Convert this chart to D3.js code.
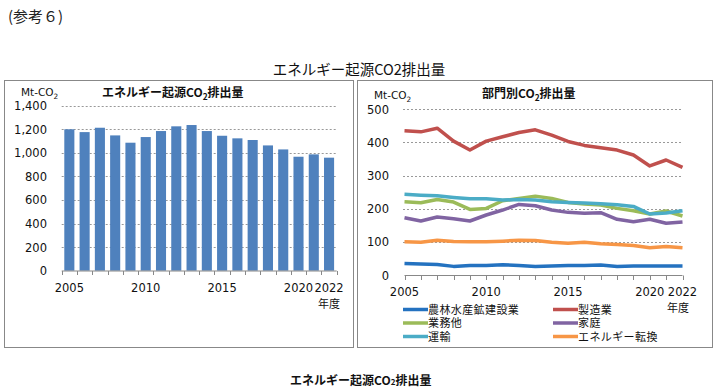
<!DOCTYPE html>
<html><head><meta charset="utf-8">
<script src="https://cdn.jsdelivr.net/npm/d3@7"></script>
<style>
html,body{margin:0;padding:0;background:#fff;}
svg{display:block;}
text{font-family:"DejaVu Sans","Noto Sans CJK JP",sans-serif;}
.jp{font-family:"Noto Sans CJK JP","DejaVu Sans",sans-serif;}
</style></head>
<body>
<script>
const years = [2005,2006,2007,2008,2009,2010,2011,2012,2013,2014,2015,2016,2017,2018,2019,2020,2021,2022];
const totalEmissions = [1200,1176,1213,1148,1086,1134,1185,1225,1236,1185,1145,1123,1109,1063,1029,967,987,959];
const leftTicks = [0,200,400,600,800,1000,1200,1400];
const rightTicks = [0,100,200,300,400,500];
const labelYears = [2005,2010,2015,2020,2022];

const sectorNames = ["農林水産鉱建設業","製造業","業務他","家庭","運輸","エネルギー転換"];
const sectorColors = ["#2472C0","#C0504D","#9BBB59","#8064A2","#4BACC6","#F79646"];
const agriculture = [35,33,32,26,29,29,31,29,26,27,29,29,30,26,27,27,27,27];
const manufacturing = [435,432,443,404,377,404,417,430,438,422,403,391,384,377,362,329,347,325];
const commercial = [221,218,228,220,198,201,224,231,238,231,219,214,211,201,194,184,193,178];
const household = [173,163,175,170,163,181,196,213,209,196,189,186,188,168,161,168,156,160];
const transport = [244,241,239,234,230,230,226,228,226,221,219,217,215,212,207,184,187,194];
const energyConv = [100,99,105,101,100,100,102,105,104,99,96,99,94,92,89,82,86,82];
const sectorSeries = [agriculture,manufacturing,commercial,household,transport,energyConv];
// draw order (back to front)
const drawOrder = [5,0,3,2,4,1];

const W=719,H=391;
const svg=d3.select("body").append("svg").attr("width",W).attr("height",H);

// headings
svg.append("text").attr("class","jp").attr("x",8).attr("y",22).attr("font-size",15).attr("fill","#222").text("(参考６)");
svg.append("text").attr("class","jp").attr("x",359).attr("y",75).attr("text-anchor","middle").attr("font-size",14.5).attr("fill","#111").text("エネルギー起源CO2排出量");

// panels
svg.append("rect").attr("x",4.5).attr("y",80.5).attr("width",349).attr("height",267).attr("fill","none").attr("stroke","#888");
svg.append("rect").attr("x",357.5).attr("y",80.5).attr("width",355).attr("height",267).attr("fill","none").attr("stroke","#888");

function co2Label(g,x,y,pre,post,size,bold){
  const t=g.append("text").attr("x",x).attr("y",y).attr("font-size",size).attr("fill","#111");
  if(bold){t.attr("font-weight","bold").attr("class","jp");}
  t.append("tspan").text(pre);
  t.append("tspan").attr("font-size",size*0.7).attr("dy",size*0.25).text("2");
  t.append("tspan").attr("dy",-size*0.25).text(post);
  return t;
}

// ---- Left bar chart ----
const xb=d3.scaleBand().domain(years).range([61.7,336.7]).paddingInner(0.34).paddingOuter(0.17);
const yb=d3.scaleLinear().domain([0,1400]).range([270.7,105.7]);
const gl=svg.append("g");
gl.selectAll("line.grid").data(leftTicks.filter(d=>d>0)).join("line")
  .attr("x1",61.7).attr("x2",336.7).attr("y1",d=>Math.round(yb(d))+0.5).attr("y2",d=>Math.round(yb(d))+0.5)
  .attr("stroke","#999").attr("stroke-dasharray","2,2");
gl.selectAll("rect.bar").data(years).join("rect")
  .attr("x",d=>xb(d)).attr("width",xb.bandwidth())
  .attr("y",(d,i)=>yb(totalEmissions[i])).attr("height",(d,i)=>yb(0)-yb(totalEmissions[i]))
  .attr("fill","#4F81BD");
// axis
gl.append("line").attr("x1",61.7).attr("x2",336.7).attr("y1",271).attr("y2",271).attr("stroke","#888");
d3.range(19).forEach(i=>{
  const x=Math.round(61.7+i*(275/18))+0.5;
  gl.append("line").attr("x1",x).attr("x2",x).attr("y1",271).attr("y2",275).attr("stroke","#888");
});
gl.selectAll("text.yt").data(leftTicks).join("text")
  .attr("x",47).attr("y",d=>yb(d)+4.5).attr("text-anchor","end").attr("font-size",11.5).attr("fill","#111")
  .text(d=>d3.format(",")(d));
gl.selectAll("text.xt").data(labelYears).join("text")
  .attr("x",d=>xb(d)+xb.bandwidth()/2).attr("y",292).attr("text-anchor","middle").attr("font-size",11.5).attr("fill","#111")
  .text(d=>d);
gl.append("text").attr("class","jp").attr("x",329).attr("y",308).attr("text-anchor","middle").attr("font-size",11).attr("fill","#111").text("年度");
co2Label(gl,21,96,"Mt-CO","",10.5,false);
co2Label(gl,102,97,"エネルギー起源CO","排出量",12,true);

// ---- Right line chart ----
const xl=d3.scalePoint().domain(years).range([404.5,682.5]);
const yl=d3.scaleLinear().domain([0,500]).range([275,109.3]);
const gr=svg.append("g");
gr.selectAll("line.grid").data(rightTicks.filter(d=>d>0)).join("line")
  .attr("x1",403).attr("x2",683).attr("y1",d=>Math.round(yl(d))+0.5).attr("y2",d=>Math.round(yl(d))+0.5)
  .attr("stroke","#999").attr("stroke-dasharray","2,2");
gr.append("line").attr("x1",404.5).attr("x2",682.5).attr("y1",275.5).attr("y2",275.5).attr("stroke","#888");
years.forEach(y=>{
  const x=Math.round(xl(y))+0.5;
  gr.append("line").attr("x1",x).attr("x2",x).attr("y1",275.5).attr("y2",280).attr("stroke","#888");
});
const line=d3.line().x((d,i)=>xl(years[i])).y(d=>yl(d));
drawOrder.forEach(k=>{
  gr.append("path").attr("d",line(sectorSeries[k])).attr("fill","none")
    .attr("stroke",sectorColors[k]).attr("stroke-width",3.5).attr("stroke-linejoin","round");
});
gr.selectAll("text.yt").data(rightTicks).join("text")
  .attr("x",389).attr("y",d=>yl(d)+4.5).attr("text-anchor","end").attr("font-size",11.5).attr("fill","#111")
  .text(d=>d);
gr.selectAll("text.xt").data(labelYears).join("text")
  .attr("x",d=>xl(d)).attr("y",296).attr("text-anchor","middle").attr("font-size",11.5).attr("fill","#111")
  .text(d=>d);
gr.append("text").attr("class","jp").attr("x",678).attr("y",312).attr("text-anchor","middle").attr("font-size",11).attr("fill","#111").text("年度");
co2Label(gr,374,99,"Mt-CO","",10.5,false);
co2Label(gr,482,98,"部門別CO","排出量",12,true);

// legend
const legPos=[[403,309.5],[553,309.5],[403,323],[553,323],[403,336.5],[553,336.5]];
sectorNames.forEach((n,k)=>{
  const [lx,ly]=legPos[k];
  gr.append("line").attr("x1",lx).attr("x2",lx+25).attr("y1",ly).attr("y2",ly).attr("stroke",sectorColors[k]).attr("stroke-width",3.5);
  gr.append("text").attr("class","jp").attr("x",lx+25).attr("y",ly+4).attr("font-size",11).attr("letter-spacing",0.4).attr("fill","#111").text(n);
});

// bottom heading
const bt=svg.append("text").attr("class","jp").attr("x",290).attr("y",385).attr("font-size",12).attr("font-weight","bold").attr("fill","#111");
bt.append("tspan").text("エネルギー起源CO");
bt.append("tspan").attr("font-size",8).text("2");
bt.append("tspan").text("排出量");
</script>
</body></html>
